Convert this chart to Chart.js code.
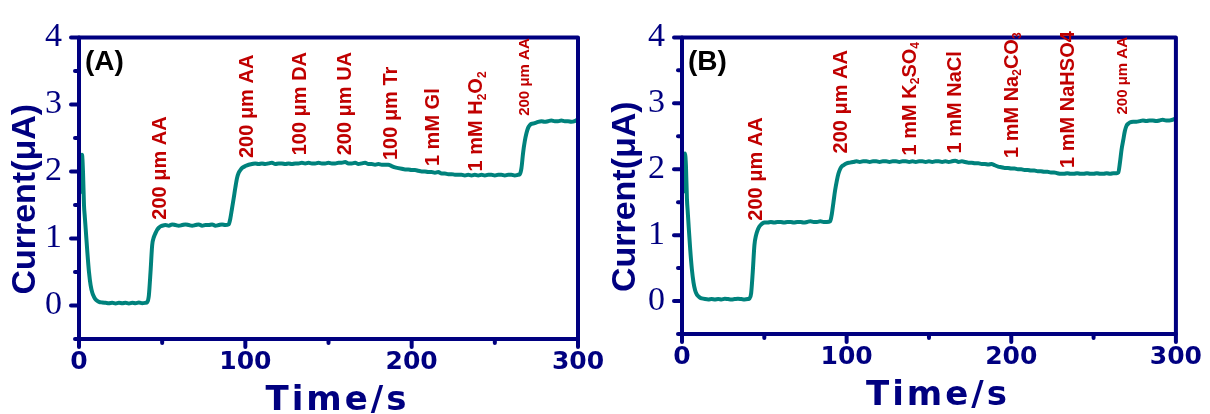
<!DOCTYPE html>
<html>
<head>
<meta charset="utf-8">
<script src="https://cdn.jsdelivr.net/npm/chart.js"></script>
<style>
  html, body { margin: 0; padding: 0; background: #ffffff; }
  #wrap { position: relative; width: 1210px; height: 414px; overflow: hidden; }
  #wrap canvas { position: absolute; top: 0; }
  #chartA { left: 0; }
  #chartB { left: 600px; }
</style>
</head>
<body>
<div id="wrap">
  <canvas id="chartA" width="620" height="414"></canvas>
  <canvas id="chartB" width="610" height="414"></canvas>
</div>
<script>
// time axis shared by both amperometric traces (s)
const timeS = [
  0, 0.6, 1.2, 1.8, 2.4, 3, 3.5, 4, 5, 6,
  7, 8, 9, 10, 11, 12, 14, 16, 18, 20,
  22, 24, 26, 28, 30, 32, 34, 36, 38, 40,
  41, 42, 43, 44, 45, 46, 47, 48, 49, 50,
  52, 54, 56, 58, 60, 62, 64, 66, 68, 70,
  72, 74, 76, 78, 80, 82, 84, 86, 88, 90,
  91, 92, 93, 94, 95, 96, 97, 98, 100, 102,
  104, 106, 108, 110, 112, 114, 116, 118, 120, 122,
  124, 126, 128, 130, 132, 134, 136, 138, 140, 142,
  144, 146, 148, 150, 152, 154, 156, 158, 160, 162,
  164, 166, 168, 170, 172, 174, 176, 178, 180, 182,
  184, 186, 188, 190, 192, 194, 196, 198, 200, 202,
  204, 206, 208, 210, 212, 214, 216, 218, 220, 222,
  224, 226, 228, 230, 232, 234, 236, 238, 240, 242,
  244, 246, 248, 250, 252, 254, 256, 258, 260, 262,
  264, 265, 266, 267, 268, 269, 270, 271, 272, 274,
  276, 278, 280, 282, 284, 286, 288, 290, 292, 294,
  296, 298, 300
];

// current (µA), panel A
const currentA = [
  1.72, 1.68, 2.0, 2.25, 2.0, 1.5, 1.32, 1.15, 0.8, 0.5,
  0.3, 0.19, 0.13, 0.09, 0.07, 0.055, 0.045, 0.04, 0.035, 0.04,
  0.03, 0.04, 0.035, 0.04, 0.03, 0.04, 0.035, 0.045, 0.035, 0.04,
  0.05, 0.15, 0.5, 0.9, 1.02, 1.08, 1.13, 1.16, 1.18, 1.19,
  1.2, 1.19, 1.21, 1.2, 1.19, 1.2, 1.21, 1.2, 1.19, 1.2,
  1.21, 1.19, 1.2, 1.2, 1.21, 1.19, 1.2, 1.21, 1.2, 1.21,
  1.3, 1.45, 1.6, 1.76, 1.9, 1.98, 2.02, 2.05, 2.08, 2.1,
  2.11, 2.12, 2.11, 2.12, 2.11, 2.12, 2.13, 2.11, 2.12, 2.12,
  2.11, 2.12, 2.11, 2.12, 2.12, 2.13, 2.12, 2.13, 2.12, 2.12,
  2.13, 2.12, 2.12, 2.13, 2.12, 2.12, 2.13, 2.13, 2.14, 2.12,
  2.12, 2.13, 2.11, 2.12, 2.13, 2.11, 2.11, 2.10, 2.11, 2.10,
  2.10, 2.10, 2.08, 2.06, 2.05, 2.04, 2.03, 2.03, 2.02, 2.02,
  2.01, 2.0, 2.0, 1.99, 1.99, 1.98, 1.99, 1.97, 1.97, 1.96,
  1.96, 1.95, 1.95, 1.95, 1.94, 1.95, 1.94, 1.95, 1.94, 1.95,
  1.94, 1.95, 1.95, 1.94, 1.95, 1.95, 1.94, 1.95, 1.95, 1.94,
  1.95, 1.96, 2.05, 2.28, 2.45, 2.57, 2.65, 2.69, 2.71, 2.72,
  2.74, 2.75, 2.74, 2.75, 2.76, 2.75, 2.75, 2.76, 2.75, 2.75,
  2.74, 2.75, 2.78
];

// current (µA), panel B
const currentB = [
  1.7, 1.65, 1.95, 2.24, 2.05, 1.55, 1.35, 1.15, 0.78, 0.48,
  0.28, 0.16, 0.1, 0.07, 0.05, 0.04, 0.03, 0.025, 0.03, 0.025,
  0.03, 0.025, 0.035, 0.03, 0.025, 0.03, 0.035, 0.03, 0.025, 0.03,
  0.04, 0.12, 0.45, 0.85, 1.0, 1.08, 1.13, 1.16, 1.18, 1.19,
  1.19, 1.2, 1.19, 1.2, 1.2, 1.19, 1.2, 1.2, 1.19, 1.2,
  1.2, 1.19, 1.2, 1.21, 1.2, 1.2, 1.21, 1.2, 1.2, 1.21,
  1.32, 1.5, 1.68, 1.82, 1.93, 2.0, 2.04, 2.06, 2.09, 2.1,
  2.11, 2.12, 2.11, 2.12, 2.12, 2.11, 2.12, 2.12, 2.11, 2.12,
  2.12, 2.11, 2.12, 2.12, 2.11, 2.12, 2.12, 2.11, 2.12, 2.11,
  2.12, 2.12, 2.11, 2.12, 2.11, 2.12, 2.12, 2.11, 2.12, 2.11,
  2.12, 2.13, 2.11, 2.12, 2.11, 2.10, 2.10, 2.09, 2.09, 2.08,
  2.08, 2.07, 2.08, 2.06, 2.04, 2.03, 2.02, 2.02, 2.01, 2.01,
  2.0, 2.0, 1.99, 1.99, 1.98, 1.98, 1.97, 1.97, 1.96, 1.96,
  1.95, 1.95, 1.94, 1.93, 1.93, 1.94, 1.93, 1.93, 1.94, 1.93,
  1.93, 1.94, 1.93, 1.93, 1.94, 1.93, 1.93, 1.94, 1.93, 1.94,
  1.94, 1.95, 2.1, 2.3, 2.44, 2.58, 2.66, 2.69, 2.71, 2.72,
  2.72, 2.73, 2.74, 2.73, 2.74, 2.74, 2.73, 2.74, 2.75, 2.74,
  2.74, 2.75, 2.77
];

// injection labels: time (s) and current level (µA) where each label starts
const injTimeA = [49, 101, 133, 160, 188, 213, 239, 268];
const injLevelA = [1.28, 2.2, 2.24, 2.24, 2.17, 2.08, 2.0, 2.83];
const injTextA = ['200 μm AA', '200 μm AA', '100 μm DA', '200 μm UA', '100 μm Tr', '1 mM Gl', '1 mM H_2O_2', '200 μm AA'];

const injTimeB = [45, 97, 138.5, 166, 200.5, 235, 268];
const injLevelB = [1.22, 2.24, 2.21, 2.24, 2.17, 2.02, 2.83];
const injTextB = ['200 μm AA', '200 μm AA', '1 mM K_2SO_4', '1 mM NaCl', '1 mM Na_2CO_3', '1 mM NaHSO4', '200 μm AA'];

const xMajor = [0, 100, 200, 300];
const xMinor = [50, 150, 250];
const yMajor = [0, 1, 2, 3, 4];
const yMinor = [-0.5, 0.5, 1.5, 2.5, 3.5];

const NAVY = '#000080';
const TEAL = '#00827c';
const RED = '#c00000';

// split "H_2O_2" into plain / subscript pieces
function pieces(str) {
  const out = [];
  const re = /_(\d)|[^_]+/g;
  let m;
  while ((m = re.exec(str))) {
    if (m[1]) out.push({ t: m[1], sub: true });
    else out.push({ t: m[0], sub: false });
  }
  return out;
}

function makeChart(id, values, injT, injL, injTxt, tag, area) {
  const canvas = document.getElementById(id);
  const W = canvas.width, H = canvas.height;

  const overlay = {
    id: 'overlay-' + id,
    afterDraw(chart) {
      const { ctx, chartArea: ca, scales: { x, y } } = chart;
      ctx.save();
      ctx.strokeStyle = NAVY;
      ctx.lineCap = 'round';

      // tick marks
      ctx.lineWidth = 4;
      yMajor.forEach(v => {
        const py = y.getPixelForValue(v);
        ctx.beginPath(); ctx.moveTo(ca.left, py); ctx.lineTo(ca.left - 8, py); ctx.stroke();
      });
      yMinor.forEach(v => {
        const py = y.getPixelForValue(v);
        ctx.beginPath(); ctx.moveTo(ca.left, py); ctx.lineTo(ca.left - 4, py); ctx.stroke();
      });
      xMajor.forEach(v => {
        const px = x.getPixelForValue(v);
        ctx.beginPath(); ctx.moveTo(px, ca.bottom); ctx.lineTo(px, ca.bottom + 8); ctx.stroke();
      });
      xMinor.forEach(v => {
        const px = x.getPixelForValue(v);
        ctx.beginPath(); ctx.moveTo(px, ca.bottom); ctx.lineTo(px, ca.bottom + 4); ctx.stroke();
      });

      // frame
      ctx.lineCap = 'butt';
      ctx.lineJoin = 'round';
      ctx.lineWidth = 4;
      ctx.strokeRect(ca.left, ca.top, ca.right - ca.left, ca.bottom - ca.top);

      // axis titles
      ctx.fillStyle = NAVY;
      ctx.font = 'bold 34px "Liberation Sans", Arial, sans-serif';
      ctx.textAlign = 'center';
      ctx.textBaseline = 'middle';
      ctx.save();
      ctx.translate(26, (ca.top + ca.bottom) / 2 + 11);
      ctx.rotate(-Math.PI / 2);
      ctx.fillText('Current(μA)', 0, 0);
      ctx.restore();

      ctx.font = 'bold 34px "DejaVu Sans", sans-serif';
      ctx.letterSpacing = '3px';
      ctx.textBaseline = 'alphabetic';
      ctx.fillText('Time/s', (ca.left + ca.right) / 2 + 9, ca.bottom + 71);
      ctx.letterSpacing = '0px';

      // panel tag
      ctx.fillStyle = '#000000';
      ctx.font = 'bold 28px "Liberation Sans", Arial, sans-serif';
      ctx.textAlign = 'left';
      ctx.textBaseline = 'middle';
      ctx.fillText(tag, ca.left + 6, ca.top + 25);

      // injection labels, rotated
      ctx.fillStyle = RED;
      injT.forEach((t, i) => {
        const size = i === injT.length - 1 ? 15 : 20;
        const px = x.getPixelForValue(t);
        const py = y.getPixelForValue(injL[i]);
        ctx.save();
        ctx.translate(px, py);
        ctx.rotate(-Math.PI / 2);
        ctx.textAlign = 'left';
        ctx.textBaseline = 'middle';
        let cx = 0;
        pieces(injTxt[i]).forEach(p => {
          const fs = p.sub ? Math.round(size * 0.6) : size;
          ctx.font = 'bold ' + fs + 'px "Liberation Sans", Arial, sans-serif';
          ctx.fillText(p.t, cx, p.sub ? size * 0.3 : 0);
          cx += ctx.measureText(p.t).width;
        });
        ctx.restore();
      });
      ctx.restore();
    }
  };

  return new Chart(canvas, {
    type: 'line',
    data: {
      datasets: [{
        data: timeS.map((t, i) => ({ x: t, y: values[i] })),
        borderColor: TEAL,
        borderWidth: 4,
        pointRadius: 0,
        cubicInterpolationMode: 'monotone',
        fill: false
      }]
    },
    options: {
      responsive: false,
      animation: false,
      devicePixelRatio: 1,
      layout: { padding: { left: 0, top: area.top, right: W - area.right, bottom: 0 } },
      plugins: { legend: { display: false }, tooltip: { enabled: false } },
      scales: {
        x: {
          type: 'linear',
          min: 0, max: 300,
          afterFit: s => { s.height = H - area.bottom; },
          afterBuildTicks: s => { s.ticks = xMajor.map(v => ({ value: v })); },
          grid: { display: false, drawTicks: false },
          border: { display: false },
          ticks: {
            padding: 8,
            color: NAVY,
            font: { family: '"DejaVu Sans", sans-serif', size: 25, weight: 'bold' },
            callback: v => String(v)
          }
        },
        y: {
          type: 'linear',
          min: -0.5, max: 4,
          afterFit: s => { s.width = area.left; },
          afterBuildTicks: s => { s.ticks = yMajor.map(v => ({ value: v })); },
          grid: { display: false, drawTicks: false },
          border: { display: false },
          ticks: {
            padding: 17,
            color: NAVY,
            font: { family: '"Liberation Serif", "Times New Roman", serif', size: 34 },
            callback: v => String(v)
          }
        }
      }
    },
    plugins: [overlay]
  });
}

makeChart('chartA', currentA, injTimeA, injLevelA, injTextA, '(A)', { left: 79, top: 32, right: 578, bottom: 339 });
makeChart('chartB', currentB, injTimeB, injLevelB, injTextB, '(B)', { left: 82, top: 28, right: 580, bottom: 334 });
</script>
</body>
</html>
